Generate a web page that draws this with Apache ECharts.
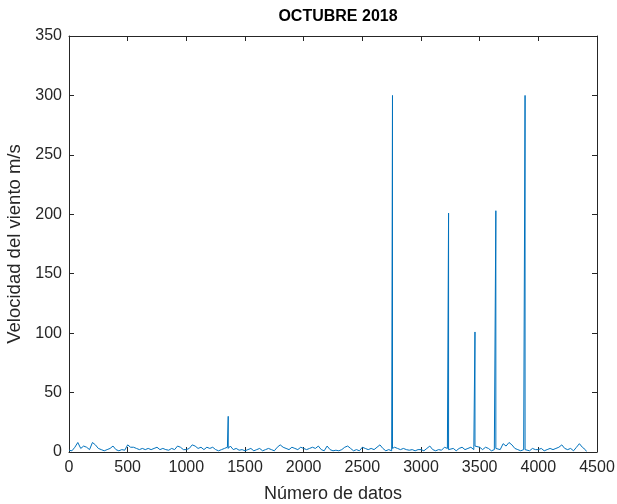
<!DOCTYPE html>
<html>
<head>
<meta charset="utf-8">
<script src="https://cdn.jsdelivr.net/npm/echarts@6/dist/echarts.min.js"></script>
<style>html,body{margin:0;padding:0;background:#fff;}#c{width:617px;height:504px;}</style>
</head>
<body>
<div id="c"></div>
<script>
// Baseline samples every 25 data units, starting at 0
var baseStep = 25;
var baseline = [
  1.5,1,4,8,3,5,4,2,8,6,3,2,1,2,3,5,2,1,2,1.5,
  6,4,4,3,2,3,2,3,2,3,4,2,3,2,1.5,3,2,5,4,2,
  2,3,6,5,3,4,2,4,3,4,2,1,2,3,4,5,2,3,1.5,2,
  1,2,3,1,2,3,1,2,3,2,1,4,6,4,3,2,4,3,2,4,
  3,2,3,4,3,5,2,1,5,2,1,1.5,1,2,4,5,3,1,2,1,
  4,3,2,3,2,4,6,3,1,2,1,4,3,2,3,2,1.5,2,1,2,
  2,1,3,5,2,1,2,1.5,4,3,2,3,1,3,4,2,3,4,2,6,
  4,2,4,3,1,2,3,2,7,5,8,6,3,2,1,2,3,1,3,2,
  2,3,1,2,3,2,3,4,6,3,2,3,1,4,7,4,2
];
var endX = 4410, endY = 0.5;
// Spikes: position, foot value on each side, peak value
var spikeX    = [1357, 2757, 3235, 3460, 3638, 3887];
var spikePeak = [30, 300, 201, 101, 203, 300];
var spikeFootL = [4, 1, 2, 2, 2, 2];
var spikeFootR = [3, 3, 2, 5, 3, 2];

var xTicks = [0,500,1000,1500,2000,2500,3000,3500,4000,4500];
var yTicks = [0,50,100,150,200,250,300,350];

var pts = [];
baseline.forEach(function(v,i){ pts.push([i*baseStep, v, 0]); });
pts.push([endX, endY, 0]);
spikeX.forEach(function(x,i){
  pts.push([x, spikeFootL[i], 1]);
  pts.push([x, spikePeak[i], 2]);
  pts.push([x, spikeFootR[i], 3]);
});
pts.sort(function(a,b){return a[0]-b[0] || a[2]-b[2];});
var lineData = pts.map(function(p){ return [p[0], p[1]]; });

var axisColor = '#262626';
var fontFam = 'Liberation Sans, Arial, Helvetica, sans-serif';
var plain = function(v){ return String(v); };
var chart = echarts.init(document.getElementById('c'), null, {renderer:'canvas'});
var common = {
  axisLine:{show:true, onZero:false, lineStyle:{color:axisColor, width:1}},
  axisTick:{show:true, inside:true, length:5, lineStyle:{color:axisColor}},
  splitLine:{show:false}
};
chart.setOption({
  animation:false,
  backgroundColor:'#fff',
  title:{text:'OCTUBRE 2018', left:333, top:4, textAlign:'center',
    textStyle:{fontFamily:fontFam, fontSize:16, fontWeight:'bold', color:'#000'}},
  grid:{left:69, right:20, top:36, bottom:52, containLabel:false, outerBoundsMode:'none'},
  xAxis:[
    Object.assign({type:'value', min:xTicks[0], max:xTicks[xTicks.length-1], interval:500, position:'bottom',
      name:'Número de datos', nameLocation:'middle', nameGap:33,
      nameTextStyle:{fontFamily:fontFam, fontSize:18, color:'#262626'},
      axisLabel:{fontFamily:fontFam, fontSize:16, color:'#262626', margin:8, formatter:plain}}, common),
    Object.assign({type:'value', min:0, max:4500, interval:500, position:'top',
      axisLabel:{show:false}}, common)
  ],
  yAxis:[
    Object.assign({type:'value', min:yTicks[0], max:yTicks[yTicks.length-1], interval:50, position:'left',
      name:'Velocidad del viento m/s', nameLocation:'middle', nameGap:42,
      nameTextStyle:{fontFamily:fontFam, fontSize:18.5, color:'#262626'},
      axisLabel:{fontFamily:fontFam, fontSize:16, color:'#262626', margin:7, formatter:plain}}, common),
    Object.assign({type:'value', min:0, max:350, interval:50, position:'right',
      axisLabel:{show:false}}, common)
  ],
  series:[{
    type:'line', data:lineData, xAxisIndex:0, yAxisIndex:0,
    showSymbol:false, symbol:'none',
    lineStyle:{color:'#0072BD', width:1, join:'bevel'},
    clip:true
  }]
});
</script>
</body>
</html>
